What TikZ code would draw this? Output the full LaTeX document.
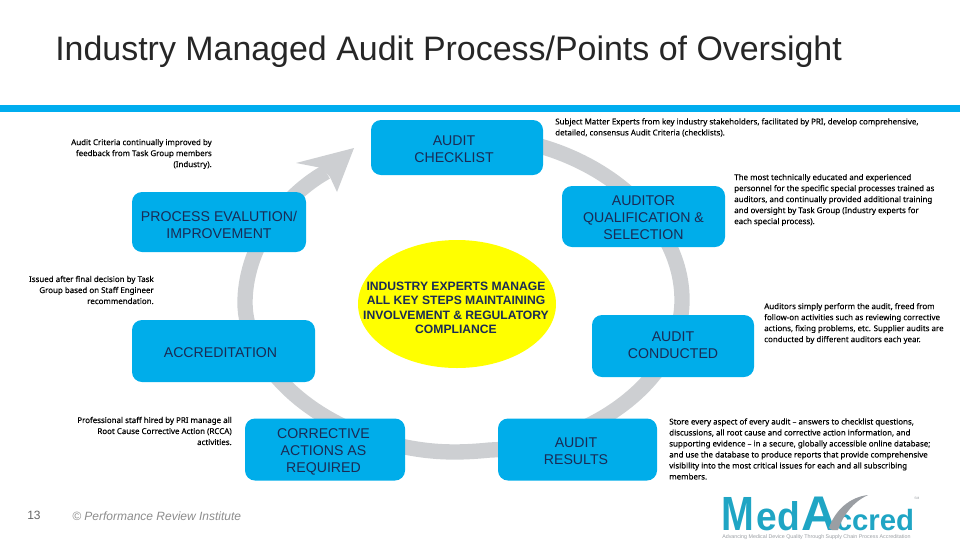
\documentclass[tikz,border=0pt]{standalone}
\usepackage{fontspec}
\setmainfont{Liberation Sans}
\newfontfamily\notefont[FakeBold=0.2]{Noto Sans}
\usetikzlibrary{shapes.geometric}
\definecolor{barblue}{HTML}{00ADEF}
\definecolor{boxblue}{HTML}{00ADEA}
\definecolor{boxtext}{HTML}{1A2B55}
\definecolor{ring}{HTML}{CDCFD2}
\definecolor{teal}{HTML}{1FA5C4}
\definecolor{swoosh}{HTML}{9A9EA3}
\definecolor{hubyellow}{HTML}{FFFF00}
\tikzset{
  stepbox/.style={fill=boxblue,draw=none,rounded corners=7.5pt,inner sep=0pt},
  steplabel/.style={inner sep=0pt,align=center,text=boxtext,font=\fontsize{10.6}{12.75}\selectfont},
  notetext/.style={inner sep=0pt,text=black,font=\notefont\fontsize{5.95}{8.25}\selectfont},
  notel/.style={notetext,anchor=west,align=left},
  noter/.style={notetext,anchor=east,align=right},
  hub/.style={ellipse,fill=hubyellow,draw=none,inner sep=0pt},
  logotext/.style={anchor=base west,inner sep=0pt,text=teal,font=\bfseries},
}
% name, x, y, w, h, text dx, text dy (px), text
\newcommand{\stepnode}[8]{\node[stepbox,minimum width=#4*0.75pt,minimum height=#5*0.75pt,
  label={[steplabel,xshift=#6*0.75pt,yshift=-#7*0.75pt]center:{#8}}] (#1) at (#2,#3) {};}
\begin{document}
\begin{tikzpicture}[x=0.75pt,y=-0.75pt]
\useasboundingbox (0,0) rectangle (960,540);
\node[anchor=west,inner sep=0pt,text=black!85,font=\fontsize{25.45}{30}\selectfont] (title) at (55,52) {Industry Managed Audit Process/Points of Oversight};
\fill[barblue] (0,105) rectangle (960,112);
% ring
\draw[ring,line width=11.5pt] (530,143) -- (543,147) .. controls (620,170) and (682,230) .. (682,300)
  .. controls (682,380) and (590,447) .. (490,450)
  .. controls (460,453) and (435,453) .. (405,447)
  .. controls (300,425) and (245,355) .. (245,303)
  .. controls (245,250) and (280,198) .. (326,172);
\fill[ring] (354,148) -- (296,163) -- (322,168) -- (330,177) -- (337,192) -- cycle;
% hub
\node[hub,minimum width=198*0.75pt,minimum height=128*0.75pt] (hub) at (457,304) {};
\node[align=center,inner sep=0pt,text=boxtext,font=\bfseries\fontsize{9.1}{10.8}\selectfont] (hubtext) at (456,308) {INDUSTRY EXPERTS MANAGE\\ALL KEY STEPS MAINTAINING\\INVOLVEMENT \& REGULATORY\\COMPLIANCE};
% steps
\stepnode{checklist}{457}{147.5}{172}{55}{-3}{2}{AUDIT\\CHECKLIST}
\stepnode{process}{219}{222}{174}{60}{0}{3}{PROCESS EVALUTION/\\IMPROVEMENT}
\stepnode{auditor}{643.5}{216.5}{163}{61}{0}{1}{AUDITOR\\QUALIFICATION \&\\SELECTION}
\stepnode{conducted}{673}{346}{162}{62}{0}{-1}{AUDIT\\CONDUCTED}
\stepnode{accred}{223.5}{351}{183}{62}{-3}{2}{ACCREDITATION}
\stepnode{corrective}{325}{449.5}{160}{62}{-1.5}{2}{CORRECTIVE\\ACTIONS AS\\REQUIRED}
\stepnode{results}{577.5}{449.5}{159}{62}{-1.5}{2}{AUDIT\\RESULTS}
% notes
\node[noter] (n1) at (212,154) {Audit Criteria continually improved by\\feedback from Task Group members\\(Industry).};
\node[notel] (n2) at (555,127.5) {Subject Matter Experts from key industry stakeholders, facilitated by PRI, develop comprehensive,\\detailed, consensus Audit Criteria (checklists).};
\node[notel] (n3) at (734,200) {The most technically educated and experienced\\personnel for the specific special processes trained as\\auditors, and continually provided additional training\\and oversight by Task Group (Industry experts for\\each special process).};
\node[noter] (n4) at (154,290) {Issued after final decision by Task\\Group based on Staff Engineer\\recommendation.};
\node[notel] (n5) at (764,323.5) {Auditors simply perform the audit, freed from\\follow-on activities such as reviewing corrective\\actions, fixing problems, etc. Supplier audits are\\conducted by different auditors each year.};
\node[noter] (n6) at (232,431) {Professional staff hired by PRI manage all\\Root Cause Corrective Action (RCCA)\\activities.};
\node[notel] (n7) at (669,449) {Store every aspect of every audit – answers to checklist questions,\\discussions, all root cause and corrective action information, and\\supporting evidence – in a secure, globally accessible online database;\\and use the database to produce reports that provide comprehensive\\visibility into the most critical issues for each and all subscribing\\members.};
% footer
\node[inner sep=0pt,text=black!60,font=\fontsize{9}{11}\selectfont] (pageno) at (34,515) {13};
\node[anchor=west,inner sep=0pt,text=black!45,font=\itshape\fontsize{9}{11}\selectfont] (copy) at (72,516.5) {© Performance Review Institute};
% logo
\node[logotext,font=\bfseries\fontsize{36}{36}\selectfont] (logom) at (721,530) {\scalebox{0.82}[1]{M}};
\node[logotext,font=\bfseries\fontsize{30}{30}\selectfont] (logoed) at (756.5,530) {\scalebox{0.93}[1]{ed}};
\node[logotext,font=\bfseries\fontsize{36.5}{36}\selectfont] (logoa) at (801,530) {A};
\node[logotext,font=\bfseries\fontsize{22}{22}\selectfont] (logocc) at (835.5,530) {ccred};
\fill[swoosh] (829,528) .. controls (835,510) and (850,497) .. (868,495) .. controls (853,502) and (843,515) .. (838,530) -- (832,530) -- cycle;
\node[anchor=base west,inner sep=0pt,text=swoosh,font=\fontsize{2.5}{3}\selectfont] (logosm) at (914,499) {SM};
\node[anchor=base west,inner sep=0pt,text=swoosh,font=\fontsize{4}{4}\selectfont] (logotag) at (722,538) {Advancing Medical Device Quality Through Supply Chain Process Accreditation};
\end{tikzpicture}
\end{document}
